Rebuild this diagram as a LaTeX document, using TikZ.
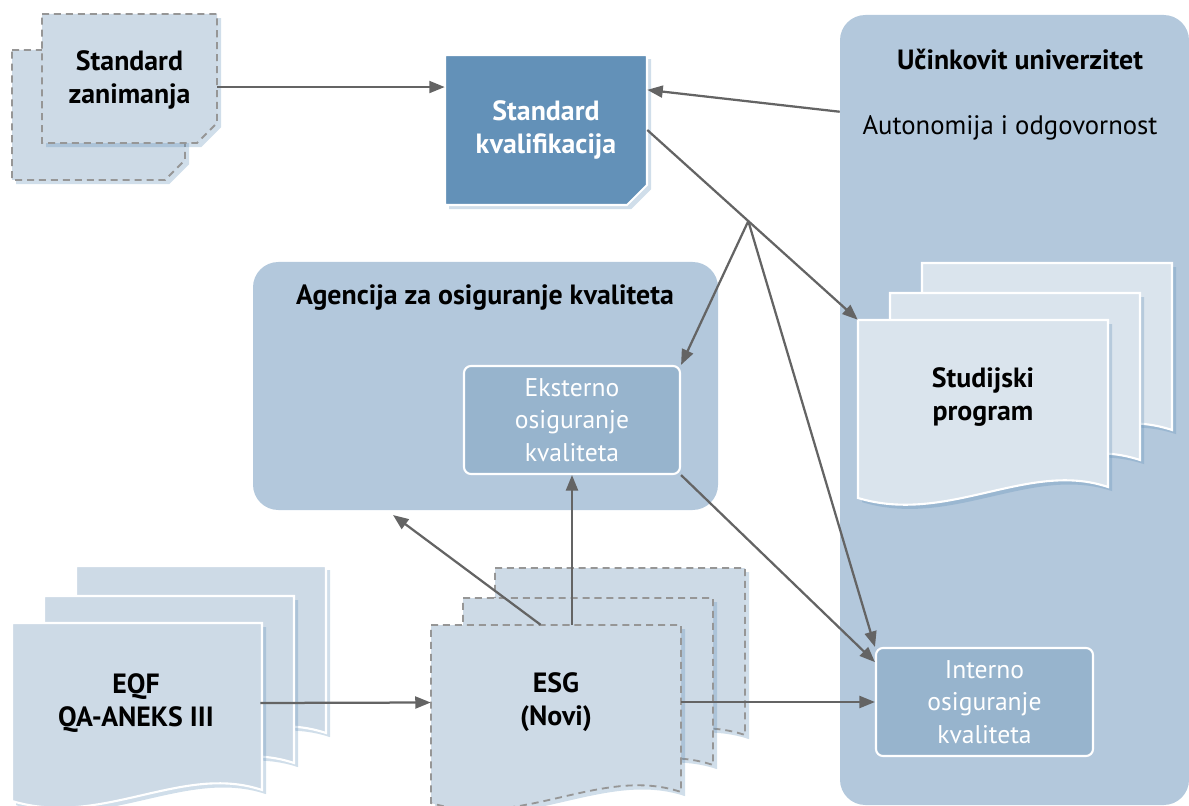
\documentclass[tikz,border=0pt]{standalone}
\usepackage{fontspec}
\setmainfont{PT Sans}
\usetikzlibrary{arrows.meta, positioning, calc, fit, shadows}

\definecolor{panelblue}{RGB}{179,200,220}
\definecolor{boxblue}{RGB}{151,180,205}
\definecolor{darkblue}{RGB}{99,145,184}
\definecolor{docblue}{RGB}{205,218,230}
\definecolor{paleblue}{RGB}{218,228,237}
\definecolor{arrowgray}{RGB}{100,100,100}
\definecolor{dashgray}{RGB}{150,150,150}

% stack of three sheets with a wavy lower edge
\newcommand{\wavedoc}[3]{%
  \foreach \dx/\dy in {64/-57, 32/-27, 0/0}
    \draw[#3] (#1+\dx, #2+\dy) -- ++(250,0) -- ++(0,167)
      .. controls +(-80,-27) and +(90,27) .. ++(-250,11) -- cycle;
}
% sheet with a cut lower right corner
\newcommand{\cutdoc}[5]{%
  \draw[#5] (#1,#2) -- (#1+#3,#2) -- (#1+#3,#2+#4-20) -- (#1+#3-20,#2+#4)
    -- (#1,#2+#4) -- cycle;
}

\begin{document}
\begin{tikzpicture}[
    x=0.025cm, y=-0.025cm,
    >={Triangle[length=11pt, width=8.5pt]},
    flow/.style={->, line width=1.6pt, arrowgray},
    panel/.style={draw=none, fill=panelblue, rounded corners=18pt, inner sep=0pt},
    area/.style={draw=none, inner sep=0pt},
    inbox/.style={draw=white, line width=1.5pt, fill=boxblue, rounded corners=5pt,
        inner sep=0pt},
    boxtext/.style={text=white, align=center, font=\fontsize{18.2}{23}\selectfont},
    sheet/.style={draw=white, line width=1.5pt, fill=#1,
        drop shadow={opacity=0.3, fill=darkblue, shadow xshift=3pt, shadow yshift=-3pt}},
    dashsheet/.style={draw=dashgray, line width=1.3pt, dash pattern=on 5pt off 3.5pt,
        fill=docblue,
        drop shadow={opacity=0.3, fill=darkblue, shadow xshift=3pt, shadow yshift=-3pt}},
    doctext/.style={align=center, font=\bfseries\fontsize{19.8}{23.5}\selectfont},
    title/.style={font=\bfseries\fontsize{19.8}{23}\selectfont}
]
\useasboundingbox (0,0) rectangle (1189,806);

% Panels
\node (univ) [panel, fit={(840,15) (1189,805)}] {};
\node (agency) [panel, fit={(253,262) (718,510)}] {};
\node (univtitle) at (1020,60) [title] {Učinkovit univerzitet};
\node (univsub) at (1010,128) [font=\fontsize{19}{23}\selectfont] {Autonomija i odgovornost};
\node (agencytitle) at (485,298) [title] {Agencija za osiguranje kvaliteta};

% Sheets
\cutdoc{12}{50}{173}{130}{dashsheet}
\cutdoc{42}{14}{175}{129}{dashsheet}
\cutdoc{445}{55}{202}{150}{sheet=darkblue}
\wavedoc{858}{320}{sheet=paleblue}
\wavedoc{12}{623}{sheet=docblue}
\wavedoc{431}{625}{dashsheet}

% Sheet areas and their labels
\node (zanim) [area, fit={(42,14) (217,146)}] {};
\node (skval) [area, fit={(445,55) (647,205)}] {};
\node (studij) [area, fit={(858,320) (1108,474)}] {};
\node (eqf) [area, fit={(12,623) (260,783)}] {};
\node (esg) [area, fit={(431,625) (681,780)}] {};
\node (zanimtext) at (zanim.center) [doctext] {Standard\\zanimanja};
\node (skvaltext) at (skval.center) [doctext, text=white] {Standard\\kvalifikacija};
\node (studijtext) at (studij.center) [doctext] {Studijski\\program};
\node (eqftext) at (eqf.center) [doctext] {EQF\\QA-ANEKS III};
\node (esgtext) at (esg.center) [doctext] {ESG\\(Novi)};

% Quality assurance boxes
\node (ekst) [inbox, fit={(464,366) (680,474)}] {};
\node (interno) [inbox, fit={(876,648) (1093,756)}] {};
\node (eksttext) at (ekst.center) [boxtext] {Eksterno\\osiguranje\\kvaliteta};
\node (internotext) at (interno.center) [boxtext] {Interno\\osiguranje\\kvaliteta};

% Connectors
\coordinate (zout) at ([yshift=-5pt]zanim.east);
\coordinate (uout) at ([yshift=-69pt]univ.north west);
\coordinate (split) at ($(skval.east)!0.48!(studij.north west)$);
\coordinate (agtip) at (393,515);
\draw[flow] (zout) -- (zout -| skval.west);
\draw[flow] (uout) -- ([yshift=-25pt]skval.north east);
\draw[flow] (skval.east) -- (studij.north west);
\draw[flow] (split) -- (ekst.north east);
\draw[flow] (split) -- (interno.north west);
\draw[flow] (ekst.south east) -- (interno.160);
\draw[flow] ([xshift=-11pt]esg.north) -- (agtip);
\draw[flow] (esg.north -| ekst.south) -- (ekst.south);
\draw[flow] (eqf.east) -- (esg.west);
\draw[flow] (esg.east |- interno.west) -- (interno.west);
\end{tikzpicture}
\end{document}
